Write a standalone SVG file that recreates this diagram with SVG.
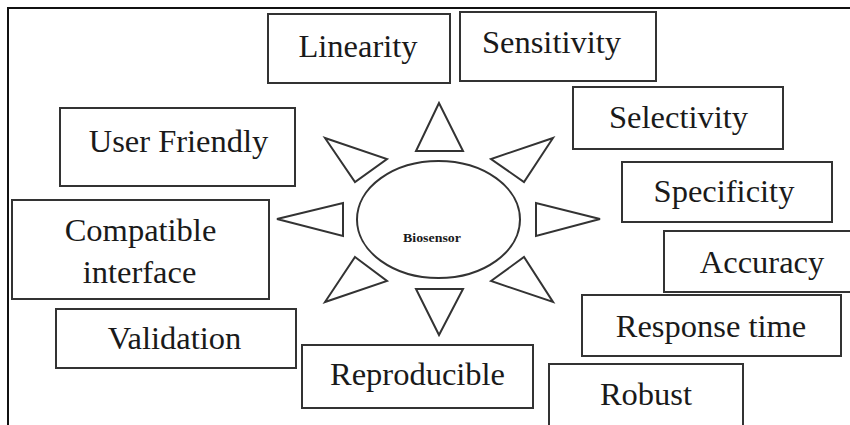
<svg xmlns="http://www.w3.org/2000/svg" width="850" height="425" viewBox="0 0 850 425">
<style>
.box{fill:#fff;stroke:#333;stroke-width:2}
.tri{fill:#fff;stroke:#333;stroke-width:2}
text{font-family:'Times New Roman','Liberation Serif',Tinos,serif;fill:#1a1a1a;text-anchor:middle;font-size:32.5px}
</style>
<rect width="850" height="425" fill="#fff"/>
<path d="M8,425 V8 H850" fill="none" stroke="#111" stroke-width="2"/>
<g id="connectors">
<polygon class="tri" points="439,103 416,151 463,151"/>
<polygon class="tri" points="553,138 491,159 524,182"/>
<polygon class="tri" points="536,203 536,236 600,219"/>
<polygon class="tri" points="491,281 524,257 553,302"/>
<polygon class="tri" points="416,289 463,289 439,335"/>
<polygon class="tri" points="355,257 387,281 325,302"/>
<polygon class="tri" points="343,203 343,236 277,219"/>
<polygon class="tri" points="325,138 387,159 355,182"/>
</g>
<g id="biosensor">
<ellipse cx="438.5" cy="219.5" rx="81.5" ry="58.5" fill="#fff" stroke="#333" stroke-width="2"/>
<text x="432" y="242" style="font-size:13px;font-weight:bold" textLength="58" lengthAdjust="spacingAndGlyphs">Biosensor</text>
</g>
<g id="linearity"><rect class="box" x="268" y="14" width="182" height="69"/><text x="358" y="57">Linearity</text></g>
<g id="sensitivity"><rect class="box" x="460" y="12" width="196" height="69"/><text x="551.5" y="53">Sensitivity</text></g>
<g id="selectivity"><rect class="box" x="573" y="87" width="210" height="62"/><text x="678.5" y="128">Selectivity</text></g>
<g id="specificity"><rect class="box" x="622" y="162" width="210" height="60"/><text x="724" y="202">Specificity</text></g>
<g id="accuracy"><rect class="box" x="664" y="231" width="190" height="61"/><text x="762" y="273">Accuracy</text></g>
<g id="response-time"><rect class="box" x="582" y="295" width="259" height="61"/><text x="711" y="337">Response time</text></g>
<g id="robust"><rect class="box" x="549" y="364" width="194" height="70"/><text x="646" y="405">Robust</text></g>
<g id="reproducible"><rect class="box" x="302" y="345" width="231" height="63"/><text x="417.5" y="385">Reproducible</text></g>
<g id="validation"><rect class="box" x="56" y="309" width="240" height="59"/><text x="174.5" y="349">Validation</text></g>
<g id="compatible-interface"><rect class="box" x="12" y="200" width="257" height="99"/><text x="140.5" y="241">Compatible</text><text x="139.5" y="283">interface</text></g>
<g id="user-friendly"><rect class="box" x="60" y="108" width="235" height="78"/><text x="178.5" y="152">User Friendly</text></g>
</svg>
